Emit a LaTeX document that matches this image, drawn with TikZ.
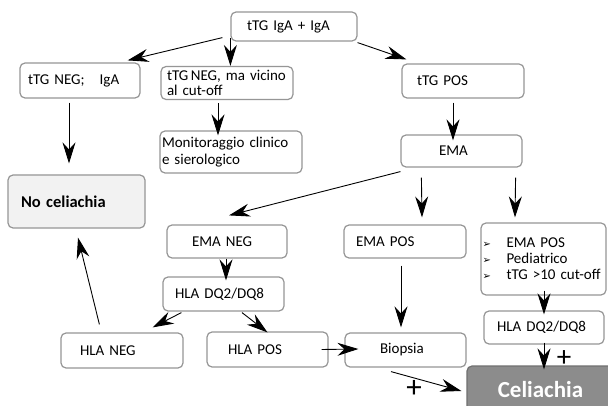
\documentclass[tikz,border=0pt]{standalone}
\usepackage{fontspec}
\setmainfont{Carlito}
\newfontfamily\dejavu{DejaVu Sans}
\usetikzlibrary{arrows.meta,calc}
\definecolor{boxgray}{RGB}{150,150,150}
\definecolor{nofill}{RGB}{242,242,242}
\definecolor{celfill}{RGB}{140,140,140}
\definecolor{celdraw}{RGB}{112,112,112}
\newcommand{\bul}{\makebox[24pt][l]{\dejavu\fontsize{10}{10}\selectfont ➢}}
\begin{document}
\begin{tikzpicture}[x=1pt,y=-1pt,
  box/.style={draw=boxgray, line width=1.2pt, rounded corners=5pt, fill=white,
    align=left, inner ysep=0pt, font=\fontsize{15}{16}\selectfont},
  arr/.style={-{Stealth[length=21pt,width=13pt,inset=7pt]}, line width=0.9pt, black},
  plus/.style={inner sep=0pt}]
\useasboundingbox (0,0) rectangle (608,406);
\clip (0,0) rectangle (608,406);
\fill[white] (0,0) rectangle (608,406);

% boxes
\node[box, minimum height=29, text width=94, inner xsep=16] (A) at (294,26.5) {tTG IgA + IgA};
\node[box, minimum height=35, text width=104, inner xsep=8] (B) at (80,80.5) {tTG NEG;\ \ \ IgA};
\node[box, minimum height=33, text width=120, inner xsep=6, font=\fontsize{15}{15}\selectfont] (C) at (227,83) {tTG\,NEG, ma vicino\\al cut-off};
\node[box, minimum height=34, text width=92, inner xsep=15] (D) at (463,81) {tTG POS};
\node[box, minimum height=42, text width=138, inner xsep=2, font=\fontsize{15}{17}\selectfont] (E) at (231,152) {Monitoraggio clinico\\e sierologico};
\node[box, minimum height=32, text width=45, inner xsep=38] (F) at (461.5,151) {EMA};
\node[box, fill=nofill, minimum height=53, text width=111, inner xsep=13, font=\bfseries\fontsize{16.5}{18}\selectfont] (G) at (76.5,201.5) {No celiachia};
\node[box, minimum height=33, text width=70, inner xsep=25] (H) at (227,241.5) {EMA NEG};
\node[box, minimum height=33, text width=98, inner xsep=12] (I) at (405,241.5) {EMA POS};
\node[box, minimum height=72, text width=122, inner xsep=1.5] (J) at (543.5,259)
  {\bul EMA POS\\\bul Pediatrico\\\bul tTG >10 cut-off};
\node[box, minimum height=34, text width=97, inner xsep=12] (K) at (223.5,294) {HLA DQ2/DQ8};
\node[box, minimum height=35, text width=84, inner xsep=19] (L) at (122,350.5) {HLA NEG};
\node[box, minimum height=35, text width=79, inner xsep=21] (M) at (267.5,349.5) {HLA POS};
\node[box, minimum height=34, text width=51, inner xsep=35] (N) at (405.5,350) {Biopsia};
\node[box, minimum height=33, text width=94, inner xsep=13] (O) at (544,327.5) {HLA DQ2/DQ8};
\node[draw=celdraw, fill=celfill, line width=1.2pt, rounded corners=5pt,
  minimum width=147, minimum height=48, text=white,
  font=\bfseries\fontsize{23}{23}\selectfont] (P) at (540.5,390) {Celiachia};

% plus signs
\node[plus, font=\fontsize{29}{29}\selectfont] (plusA) at (564,358.5) {+};
\node[plus, font=\fontsize{31}{31}\selectfont] (plusB) at (414,389) {+};

% connectors
\draw[arr] ($(A.south west)+(-8,-4)$) -- ($(B.north east)+(-13,-2)$);
\draw[arr] ($(A.south west)+(0,-4)$) -- (A.south west |- C.north);
\draw[arr] ($(A.south east)+(0,1)$) -- ($(D.north west)+(5,-4)$);
\draw[arr] ($(B.south)+(-11,4)$) -- ($(G.north)+(-7.5,-11)$);
\draw[arr] ($(C.south)+(-9,3)$) -- ($(E.north)+(-13,5)$);
\draw[arr] ($(D.south)+(-10,4)$) -- ($(F.north)+(-8.5,6)$);
\draw[arr] ($(F.south west)+(0,4)$) -- ($(H.north)+(2,-9)$);
\draw[arr] ($(F.south west)+(21,10)$) -- ($(I.north)+(17,-7)$);
\draw[arr] ($(F.south east)+(-7,10)$) -- ($(J.north)+(-28.5,-5)$);
\draw[arr] ($(H.south)+(-1,0)$) -- ($(K.north)+(2.5,4)$);
\draw[arr] ($(I.south)+(-4,7)$) -- ($(N.north)+(-4.5,-5)$);
\draw[arr] ($(K.south west)+(19,1)$) -- ($(L.north east)+(-31,-5)$);
\draw[arr] ($(K.south)+(18.5,1)$) -- ($(M.north)+(0,1)$);
\draw[arr] ($(L.north west)+(39,-8)$) -- ($(G.south)+(1.5,9)$);
\draw[arr] ($(M.east)+(-7,0)$) -- ($(N.west)+(14,-1)$);
\draw[arr] ($(N.south)+(-14.5,4)$) -- ($(P.west)+(-5,1)$);
\draw[arr] ($(J.south)+(0.5,-5)$) -- ($(O.north)+(0,4)$);
\draw[arr] ($(O.south)+(0,-2)$) -- ($(P.north)+(3.5,4)$);
\end{tikzpicture}
\end{document}
